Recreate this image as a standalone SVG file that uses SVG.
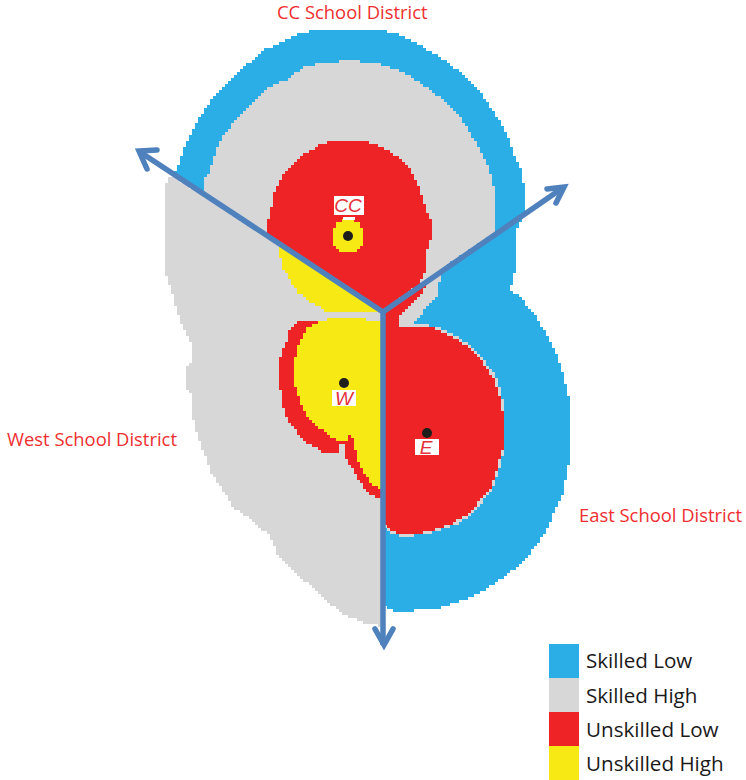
<svg xmlns="http://www.w3.org/2000/svg" width="746" height="780" viewBox="0 0 746 780">
<style>
.b{fill:#2baee5}.g{fill:#d7d7d7}.r{fill:#ee2326}.y{fill:#f7ea14}
.axis{fill:none;stroke:#4f81bd;stroke-width:5.5;stroke-linejoin:miter}
.head{fill:none;stroke:#4f81bd;stroke-width:5.5;stroke-linecap:round;stroke-linejoin:miter}
.dot{fill:#1d1d1b}.tag{fill:#fff}
text{font-family:"Open Sans","Liberation Sans",sans-serif}
.d{fill:#ee2e30;font-size:18.4px}
.n{fill:#e5323a;font-family:"Liberation Sans",Arial,sans-serif;font-size:19px;font-style:italic;text-anchor:middle}
.l{fill:#1a1a1a;font-size:20.6px}
</style>
<defs>
<filter id="px" filterUnits="userSpaceOnUse" primitiveUnits="userSpaceOnUse" x="0" y="0" width="746" height="640" color-interpolation-filters="sRGB">
<feFlood x="1" y="1" width="1" height="1" flood-color="#000"/>
<feComposite width="3" height="3"/>
<feTile result="t"/>
<feComposite in="SourceGraphic" in2="t" operator="in"/>
<feMorphology operator="dilate" radius="1"/>
</filter>
</defs>
<g id="regions" filter="url(#px)" shape-rendering="crispEdges">
<polygon class="b" points="174,174 178,167 184,148 193,130 204,110 217,92 230,80 250,62 266,49 283,42 299,34 316,30 382,30 398,34 415,42 433,53 448,62 463,75 480,92 493,110 507,133 513,153 520,167 523,180 526,197 526,212 516,230 517,260 513,280 510,292 520,295 523,300 537,318 548,337 557,355 563,372 569,398 569,463 563,493 555,510 547,530 537,545 527,557 513,570 493,585 473,597 450,605 433,610 393,611 387,607 383,606 383,312"/>
<polygon class="g" points="171,175 165,185 165,270 171,290 178,313 184,330 191,342 191,363 187,365 187,390 191,392 193,417 197,433 202,450 207,460 212,475 223,490 234,508 247,517 260,528 270,535 277,553 293,570 307,583 327,602 345,615 362,622 383,627 383,312"/>
<polygon class="g" points="203,194 203,183 210,170 215,153 223,137 237,117 247,107 260,95 270,87 286,80 302,68 316,64 342,61 355,61 380,64 393,68 411,77 427,88 443,100 457,113 467,127 478,147 487,163 493,183 496,207 496,232 443,268 440,280 437,295 427,307 414,323 414,328 383,328 383,312"/>
<polygon class="g" points="383,324 420,324 438,327 455,335 472,346 485,361 495,375 502,395 505,413 505,447 499,471 492,491 482,502 472,515 455,525 428,534 403,537 389,532 383,525"/>
<polygon class="r" points="383,326 420,326 437,329 453,337 470,348 483,363 493,377 500,397 503,413 503,447 497,470 490,490 480,500 470,513 453,523 427,532 403,535 390,530 383,523"/>
<polygon class="r" points="383,312 428,282 423,292 413,303 403,313 398,318 398,328 383,328"/>
<polygon class="r" points="299,322 290,328 286,343 280,357 279,380 283,407 289,423 298,433 307,443 325,453 339,454 339,443 345,443 345,454 348,462 352,468 358,480 368,492 383,501 383,322"/>
<polygon class="y" points="319,322 332,318 365,318 365,322 383,322 383,492 370,482 362,470 358,460 352,437 348,436 348,440 342,443 335,439 325,432 315,425 307,415 302,407 296,390 293,380 296,353 300,342 307,328"/>
<polygon class="y" points="278,244 280,257 283,268 290,280 297,292 310,302 330,313 368,313 378,312 378,306"/>
<polygon class="r" points="266,236 266,220 270,217 273,197 279,183 286,170 302,155 322,144 335,140 362,140 375,144 395,155 410,168 417,183 423,197 427,213 431,220 431,237 427,250 427,267 423,277 418,285 383,312"/>
<circle class="y" cx="348" cy="236" r="16.5"/>
</g>
<g id="connectors">
<path class="axis" d="M140,152 L383,312 L564,187 M383,312 V645"/>
<path class="head" d="M157,150 L139,151 L147,169"/>
<path class="head" d="M547,189 L564,187 L556,203"/>
<path class="head" d="M375,629 L384,645 L393,629"/>
</g>
<g id="node-cc">
<rect class="tag" x="334" y="196" width="30" height="19"/>
<rect class="tag" x="343" y="217" width="12" height="3"/>
<circle class="dot" cx="348" cy="236" r="5"/>
<text class="n" x="348" y="212">CC</text>
</g>
<g id="node-w">
<rect class="tag" x="332" y="390" width="24" height="16"/>
<circle class="dot" cx="344" cy="383" r="5"/>
<text class="n" x="344" y="405">W</text>
</g>
<g id="node-e">
<rect class="tag" x="415" y="439" width="24" height="16"/>
<circle class="dot" cx="427" cy="433" r="5"/>
<text class="n" x="426" y="454">E</text>
</g>
<g id="district-labels">
<text class="d" x="277" y="19">CC School District</text>
<text class="d" x="7" y="446">West School District</text>
<text class="d" x="579" y="522">East School District</text>
</g>
<g id="legend">
<rect class="b" x="549" y="644" width="30" height="34"/>
<rect class="g" x="549" y="678" width="30" height="34"/>
<rect class="r" x="549" y="712" width="30" height="34"/>
<rect class="y" x="549" y="746" width="30" height="34"/>
<text class="l" x="586" y="668">Skilled Low</text>
<text class="l" x="586" y="703">Skilled High</text>
<text class="l" x="586" y="737">Unskilled Low</text>
<text class="l" x="586" y="771">Unskilled High</text>
</g>
</svg>
